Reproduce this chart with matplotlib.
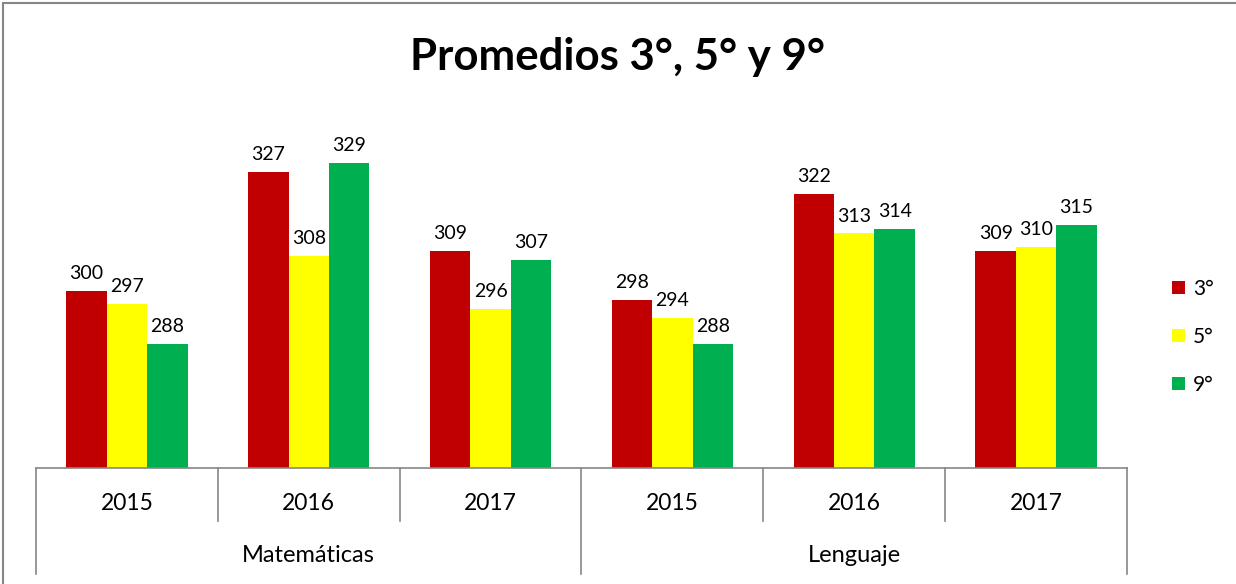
import matplotlib.pyplot as plt
import matplotlib.transforms as mtransforms
from matplotlib.patches import Rectangle
import numpy as np

years = ['2015', '2016', '2017', '2015', '2016', '2017']
subjects = ['Matemáticas', 'Lenguaje']
grado3 = [300, 327, 309, 298, 322, 309]
grado5 = [297, 308, 296, 294, 313, 310]
grado9 = [288, 329, 307, 288, 314, 315]
series = {'3°': grado3, '5°': grado5, '9°': grado9}
colors = ['#C00000', '#FFFF00', '#00B050']

plt.rcParams['font.family'] = ['Lato', 'DejaVu Sans']

W, H = 1236, 584
fig = plt.figure(figsize=(W / 100, H / 100), dpi=100)
# plot area in pixel terms: left 36, right 1127, bottom 468, top 113
ax = fig.add_axes([36 / W, 1 - 468 / H, (1127 - 36) / W, (468 - 114) / H])

x = np.arange(len(years))
bw = 1 / 4.5
for i, (name, vals) in enumerate(series.items()):
    pos = x + (i - 1) * bw
    ax.bar(pos, vals, width=bw, color=colors[i], label=name, zorder=2)
    for p, v in zip(pos, vals):
        ax.text(p, v + 2.0, str(v), ha='center', va='bottom', fontsize=14, color='#000000')

ax.set_ylim(260, 340)
ax.set_xlim(-0.5, len(years) - 0.5)
ax.set_yticks([])
ax.set_xticks([])
for s in ['left', 'right', 'top']:
    ax.spines[s].set_visible(False)
ax.spines['bottom'].set_color('#868686')
ax.spines['bottom'].set_linewidth(1.2)

# two-level category axis
tr = mtransforms.blended_transform_factory(ax.transData, fig.transFigure)
y0 = 1 - 468 / H
y_year = 1 - 521 / H
y_subj = 1 - 574 / H
for b in np.arange(-0.5, len(years), 1.0):
    if b in (-0.5, 2.5, 5.5):
        ax.plot([b, b], [y0, y_subj], transform=tr, color='#868686', lw=1.2, clip_on=False)
    else:
        ax.plot([b, b], [y0, y_year], transform=tr, color='#868686', lw=1.2, clip_on=False)
for xi, yr in zip(x, years):
    ax.text(xi, 1 - 503 / H, yr, transform=tr, ha='center', va='center', fontsize=16.5)
for k, subj in enumerate(subjects):
    ax.text(3 * k + 1, 1 - 555 / H, subj, transform=tr, ha='center', va='center', fontsize=17)

fig.text(0.5, 1 - 57 / H, 'Promedios 3°, 5° y 9°', ha='center', va='center',
         fontsize=31.5, fontweight='bold')

leg = fig.legend(loc='center left', bbox_to_anchor=(1164 / W, 1 - 337 / H), frameon=False,
                 fontsize=15, handlelength=0.6, handleheight=0.6, handletextpad=0.4,
                 labelspacing=1.35, borderaxespad=0)

# outer chart frame
fig.patches.append(Rectangle((3 / W, -0.05), 1.1, 1 - 3 / H + 0.05, transform=fig.transFigure,
                             fill=False, edgecolor='#868686', lw=1.5))

fig.savefig('out.png', dpi=100)
